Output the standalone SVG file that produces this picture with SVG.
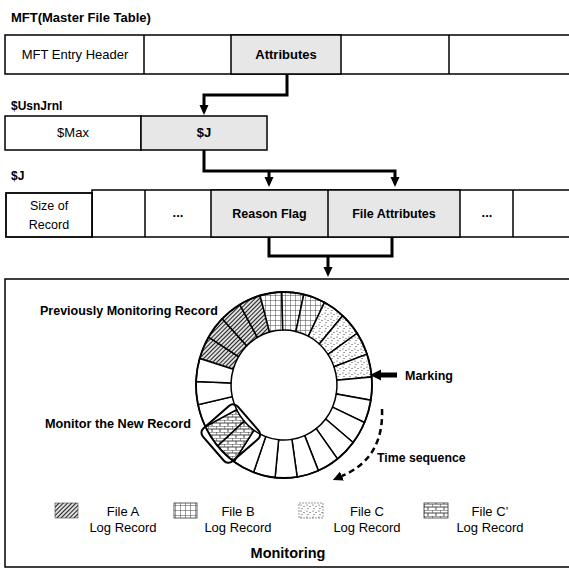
<svg xmlns="http://www.w3.org/2000/svg" width="569" height="569" viewBox="0 0 569 569">
<defs>
<style>
.cell{fill:#fff;stroke:#000;stroke-width:1.5}
.hl{fill:#e7e7e7;stroke:#000;stroke-width:1.5}
.t{font-family:"Liberation Sans",Arial,sans-serif;font-size:13px;fill:#000}
.b{font-weight:bold}
.m{text-anchor:middle}
.conn{fill:none;stroke:#000;stroke-width:3}
.seg{stroke:#000;stroke-width:1.5}
</style>
<marker id="ah" markerUnits="userSpaceOnUse" markerWidth="10" markerHeight="10" refX="0" refY="4.5" orient="auto">
<path d="M0,0 L10,4.5 L0,9 z" fill="#000"/>
</marker>
<marker id="ah2" markerUnits="userSpaceOnUse" markerWidth="12" markerHeight="12" refX="0" refY="5" orient="auto">
<path d="M0,0 L10,5 L0,10 z" fill="#000"/>
</marker>
<pattern id="pA" patternUnits="userSpaceOnUse" width="3" height="3" patternTransform="rotate(45)">
<rect width="3" height="3" fill="#fff"/>
<line x1="1.5" y1="0" x2="1.5" y2="3" stroke="#222" stroke-width="1.3"/>
</pattern>
<pattern id="pB" patternUnits="userSpaceOnUse" width="5" height="5">
<rect width="5" height="5" fill="#fff"/>
<path d="M0,0 V5 M0,0 H5" stroke="#333" stroke-width="0.9" fill="none"/>
</pattern>
<pattern id="pC" patternUnits="userSpaceOnUse" width="6" height="6">
<rect width="6" height="6" fill="#fff"/>
<circle cx="1" cy="1" r="0.6" fill="#333"/>
<circle cx="4" cy="2.5" r="0.6" fill="#333"/>
<circle cx="2" cy="4.5" r="0.6" fill="#333"/>
</pattern>
<pattern id="pD" patternUnits="userSpaceOnUse" width="8" height="6">
<rect width="8" height="6" fill="#fff"/>
<path d="M0,0 H8 M0,3 H8 M0,0 V3 M4,3 V6" stroke="#333" stroke-width="0.9" fill="none"/>
</pattern>
</defs>

<!-- MFT row -->
<g id="mft">
<text class="t b" x="11" y="22">MFT(Master File Table)</text>
<rect class="cell" x="5" y="35" width="600" height="39"/>
<rect class="hl" x="231" y="35" width="110" height="39"/>
<line x1="144" y1="35" x2="144" y2="74" stroke="#000" stroke-width="1.5"/>
<line x1="449" y1="35" x2="449" y2="74" stroke="#000" stroke-width="1.5"/>
<text class="t m" x="75" y="59">MFT Entry Header</text>
<text class="t b m" x="286" y="59">Attributes</text>
</g>

<!-- UsnJrnl row -->
<g id="usnjrnl">
<text class="t b" x="11" y="110" style="font-size:12px">$UsnJrnl</text>
<rect class="cell" x="5" y="116" width="136" height="34"/>
<rect class="hl" x="141" y="116" width="126" height="34"/>
<text class="t m" x="73" y="137">$Max</text>
<text class="t b m" x="204" y="137">$J</text>
</g>

<!-- $J row -->
<g id="jrow">
<text class="t b" x="11" y="180" style="font-size:12px">$J</text>
<rect class="cell" x="92" y="190" width="520" height="47"/>
<rect class="hl" x="211" y="190" width="249" height="47"/>
<line x1="145" y1="190" x2="145" y2="237" stroke="#000" stroke-width="1.5"/>
<line x1="328" y1="190" x2="328" y2="237" stroke="#000" stroke-width="1.5"/>
<line x1="513" y1="190" x2="513" y2="237" stroke="#000" stroke-width="1.5"/>
<rect class="cell" x="6" y="193" width="86" height="44" style="stroke-width:1.8"/>
<text class="t m" x="49" y="210" style="font-size:12.5px">Size of</text>
<text class="t m" x="49" y="229" style="font-size:12.5px">Record</text>
<text class="t b m" x="178" y="217">...</text>
<text class="t b m" x="269.5" y="218" style="font-size:12.5px">Reason Flag</text>
<text class="t b m" x="394" y="218" style="font-size:12.5px">File Attributes</text>
<text class="t b m" x="487" y="217">...</text>
</g>

<!-- connectors -->
<g id="connectors">
<path class="conn" d="M287,74 V95 H204 V105" marker-end="url(#ah)"/>
<path class="conn" d="M204,150 V171 H395 V177" marker-end="url(#ah)"/>
<path class="conn" d="M269,171 V177" marker-end="url(#ah)"/>
<path class="conn" d="M269,237 V256 H392 V237"/>
<path class="conn" d="M328,256 V267" marker-end="url(#ah)"/>
</g>

<!-- Monitoring box -->
<g id="monitoring">
<rect x="5" y="279" width="600" height="288" fill="none" stroke="#000" stroke-width="1.5"/>
<g id="ring">
<path class="seg" fill="url(#pA)" d="M199.67,358.43 A88,93 0 0 1 208.57,337.10 L238.57,356.67 A53,55 0 0 0 233.21,369.29 Z"/>
<path class="seg" fill="url(#pA)" d="M208.57,337.10 A88,93 0 0 1 222.21,318.78 L246.78,345.84 A53,55 0 0 0 238.57,356.67 Z"/>
<path class="seg" fill="url(#pA)" d="M222.21,318.78 A88,93 0 0 1 239.74,304.62 L257.34,337.46 A53,55 0 0 0 246.78,345.84 Z"/>
<path class="seg" fill="url(#pA)" d="M239.74,304.62 A88,93 0 0 1 260.04,295.52 L269.57,332.08 A53,55 0 0 0 257.34,337.46 Z"/>
<path class="seg" fill="url(#pB)" d="M260.04,295.52 A88,93 0 0 1 281.85,292.03 L282.71,330.02 A53,55 0 0 0 269.57,332.08 Z"/>
<path class="seg" fill="url(#pB)" d="M281.85,292.03 A88,93 0 0 1 303.80,294.38 L295.92,331.41 A53,55 0 0 0 282.71,330.02 Z"/>
<path class="seg" fill="url(#pB)" d="M303.80,294.38 A88,93 0 0 1 324.50,302.43 L308.39,336.17 A53,55 0 0 0 295.92,331.41 Z"/>
<path class="seg" fill="url(#pC)" d="M324.50,302.43 A88,93 0 0 1 342.65,315.67 L319.32,343.99 A53,55 0 0 0 308.39,336.17 Z"/>
<path class="seg" fill="url(#pC)" d="M342.65,315.67 A88,93 0 0 1 357.13,333.26 L328.04,354.40 A53,55 0 0 0 319.32,343.99 Z"/>
<path class="seg" fill="url(#pC)" d="M357.13,333.26 A88,93 0 0 1 367.00,354.11 L333.99,366.73 A53,55 0 0 0 328.04,354.40 Z"/>
<path class="seg" fill="url(#pC)" d="M367.00,354.11 A88,93 0 0 1 371.67,376.89 L336.80,380.20 A53,55 0 0 0 333.99,366.73 Z"/>
<path class="seg" fill="#fff" d="M371.67,376.89 A88,93 0 0 1 370.82,400.19 L336.29,393.98 A53,55 0 0 0 336.80,380.20 Z"/>
<path class="seg" fill="#fff" d="M370.82,400.19 A88,93 0 0 1 364.52,422.53 L332.50,407.19 A53,55 0 0 0 336.29,393.98 Z"/>
<path class="seg" fill="#fff" d="M364.52,422.53 A88,93 0 0 1 353.12,442.51 L325.63,419.01 A53,55 0 0 0 332.50,407.19 Z"/>
<path class="seg" fill="#fff" d="M353.12,442.51 A88,93 0 0 1 337.45,458.88 L316.19,428.69 A53,55 0 0 0 325.63,419.01 Z"/>
<path class="seg" fill="#fff" d="M337.45,458.88 A88,93 0 0 1 318.38,470.61 L304.71,435.63 A53,55 0 0 0 316.19,428.69 Z"/>
<path class="seg" fill="#fff" d="M318.38,470.61 A88,93 0 0 1 297.16,476.96 L291.92,439.38 A53,55 0 0 0 304.71,435.63 Z"/>
<path class="seg" fill="#fff" d="M297.16,476.96 A88,93 0 0 1 275.10,477.52 L278.64,439.72 A53,55 0 0 0 291.92,439.38 Z"/>
<path class="seg" fill="#fff" d="M275.10,477.52 A88,93 0 0 1 253.61,472.28 L265.70,436.62 A53,55 0 0 0 278.64,439.72 Z"/>
<path class="seg" fill="#fff" d="M253.61,472.28 A88,93 0 0 1 234.03,461.55 L253.91,430.27 A53,55 0 0 0 265.70,436.62 Z"/>
<path class="seg" fill="url(#pD)" d="M234.03,461.55 A88,93 0 0 1 217.59,446.02 L244.00,421.09 A53,55 0 0 0 253.91,430.27 Z"/>
<path class="seg" fill="url(#pD)" d="M217.59,446.02 A88,93 0 0 1 205.31,426.65 L236.61,409.63 A53,55 0 0 0 244.00,421.09 Z"/>
<path class="seg" fill="#fff" d="M205.31,426.65 A88,93 0 0 1 197.99,404.65 L232.20,396.62 A53,55 0 0 0 236.61,409.63 Z"/>
<path class="seg" fill="#fff" d="M197.99,404.65 A88,93 0 0 1 196.06,381.43 L231.04,382.89 A53,55 0 0 0 232.20,396.62 Z"/>
<path class="seg" fill="#fff" d="M196.06,381.43 A88,93 0 0 1 199.67,358.43 L233.21,369.29 A53,55 0 0 0 231.04,382.89 Z"/>
<ellipse cx="284" cy="385" rx="88" ry="93" fill="none" stroke="#000" stroke-width="1.8"/>
<rect x="-22" y="-23" width="44" height="46" rx="6" fill="none" stroke="#000" stroke-width="2" transform="translate(230.8,433.6) rotate(49)"/>
</g>
<text class="t b" x="40" y="315" style="font-size:12.5px">Previously Monitoring Record</text>
<text class="t b" x="45" y="428" style="font-size:12.7px">Monitor the New Record</text>
<g id="marking">
<rect x="380" y="372.5" width="17" height="5" fill="#000"/>
<polygon points="370,375 381,369.5 381,380.5" fill="#000"/>
<text class="t b" x="405" y="380" style="font-size:12.5px">Marking</text>
</g>
<g id="timeseq">
<path d="M382,409 Q384,458 342,476" fill="none" stroke="#000" stroke-width="2.5" stroke-dasharray="6 4" marker-end="url(#ah2)"/>
<text class="t b" x="377" y="462" style="font-size:12.3px">Time sequence</text>
</g>
<g id="legend">
<rect x="55" y="503" width="23" height="15" fill="url(#pA)" stroke="#444" stroke-width="0.6"/>
<rect x="174" y="503" width="23" height="15" fill="url(#pB)" stroke="#333" stroke-width="0.8"/>
<rect x="299" y="503" width="24" height="15" fill="url(#pC)" stroke="#555" stroke-width="0.6" stroke-dasharray="2 1"/>
<rect x="424" y="503" width="24" height="15" fill="url(#pD)" stroke="#333" stroke-width="0.8"/>
<text class="t m" x="123" y="516">File A</text>
<text class="t m" x="123" y="532">Log Record</text>
<text class="t m" x="238" y="516">File B</text>
<text class="t m" x="238" y="532">Log Record</text>
<text class="t m" x="367" y="516">File C</text>
<text class="t m" x="367" y="532">Log Record</text>
<text class="t m" x="490" y="516">File C’</text>
<text class="t m" x="490" y="532">Log Record</text>
</g>
<text class="t b m" x="288" y="558" style="font-size:14.5px">Monitoring</text>
</g>
</svg>
